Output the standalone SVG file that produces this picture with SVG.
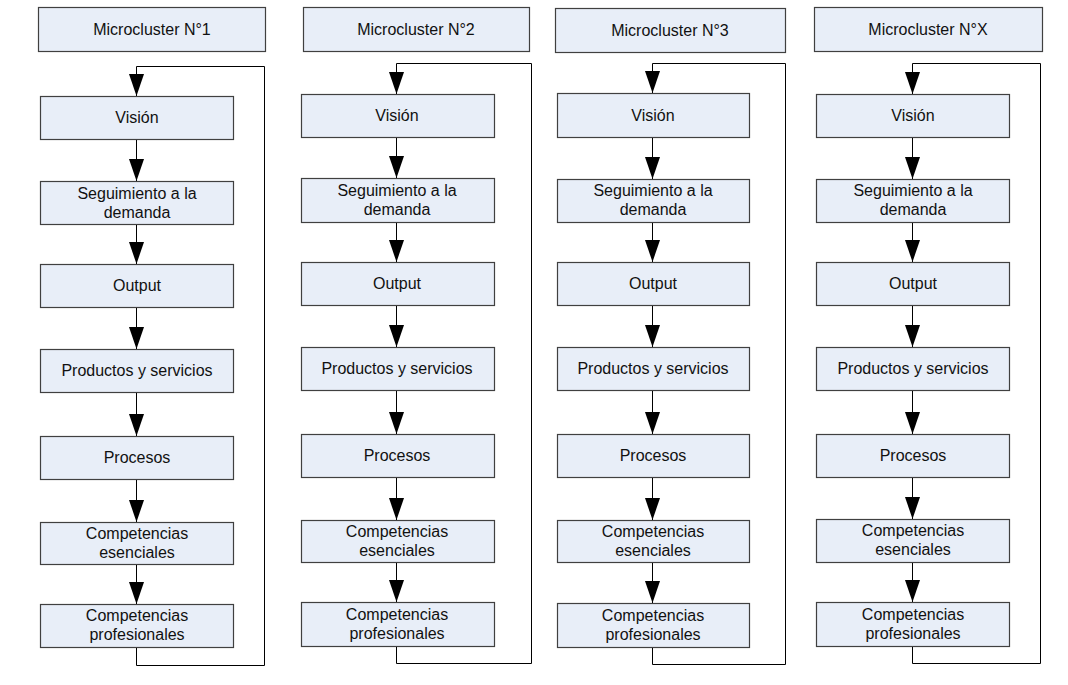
<svg xmlns="http://www.w3.org/2000/svg" width="1068" height="685" viewBox="0 0 1068 685">
<style>
.box{fill:#e8eef8;stroke:#404040;stroke-width:1.2}
.t{font-family:"Liberation Sans",Arial,sans-serif;font-size:16px;fill:#111;text-anchor:middle}
.c{fill:none;stroke:#000;stroke-width:1}
</style>
<defs>
<marker id="ah" viewBox="0 0 22 15" refX="22" refY="7.5" markerWidth="22" markerHeight="15" markerUnits="userSpaceOnUse" orient="auto">
<path d="M0,0 L22,7.5 L0,15 z" fill="#000"/>
</marker>
</defs>
<rect width="1068" height="685" fill="#fff"/>

<!-- Column 1 -->
<g id="h1"><rect class="box" x="38.5" y="7.5" width="227" height="44"/><text class="t" x="152" y="35">Microcluster N°1</text></g>
<g id="c1n1"><rect class="box" x="40.5" y="96.5" width="193" height="43"/><text class="t" x="137" y="123">Visión</text></g>
<g id="c1n2"><rect class="box" x="40.5" y="181.5" width="193" height="43"/><text class="t" x="137" y="199">Seguimiento a la</text><text class="t" x="137" y="218">demanda</text></g>
<g id="c1n3"><rect class="box" x="40.5" y="264.5" width="193" height="43"/><text class="t" x="137" y="291">Output</text></g>
<g id="c1n4"><rect class="box" x="40.5" y="349.5" width="193" height="43"/><text class="t" x="137" y="376">Productos y servicios</text></g>
<g id="c1n5"><rect class="box" x="40.5" y="436.5" width="193" height="43"/><text class="t" x="137" y="463">Procesos</text></g>
<g id="c1n6"><rect class="box" x="40.5" y="522.5" width="193" height="42"/><text class="t" x="137" y="539">Competencias</text><text class="t" x="137" y="558">esenciales</text></g>
<g id="c1n7"><rect class="box" x="40.5" y="604.5" width="193" height="43"/><text class="t" x="137" y="621">Competencias</text><text class="t" x="137" y="640">profesionales</text></g>

<!-- Column 2 -->
<g id="h2"><rect class="box" x="303.5" y="7.5" width="226" height="44"/><text class="t" x="416" y="35">Microcluster N°2</text></g>
<g id="c2n1"><rect class="box" x="301.5" y="94.5" width="193" height="43"/><text class="t" x="397" y="121">Visión</text></g>
<g id="c2n2"><rect class="box" x="301.5" y="178.5" width="193" height="44"/><text class="t" x="397" y="196">Seguimiento a la</text><text class="t" x="397" y="215">demanda</text></g>
<g id="c2n3"><rect class="box" x="301.5" y="262.5" width="193" height="43"/><text class="t" x="397" y="289">Output</text></g>
<g id="c2n4"><rect class="box" x="301.5" y="347.5" width="193" height="43"/><text class="t" x="397" y="374">Productos y servicios</text></g>
<g id="c2n5"><rect class="box" x="301.5" y="434.5" width="193" height="43"/><text class="t" x="397" y="461">Procesos</text></g>
<g id="c2n6"><rect class="box" x="301.5" y="520.5" width="193" height="42"/><text class="t" x="397" y="537">Competencias</text><text class="t" x="397" y="556">esenciales</text></g>
<g id="c2n7"><rect class="box" x="301.5" y="602.5" width="193" height="44"/><text class="t" x="397" y="620">Competencias</text><text class="t" x="397" y="639">profesionales</text></g>

<!-- Column 3 -->
<g id="h3"><rect class="box" x="555.5" y="8.5" width="230" height="44"/><text class="t" x="670" y="36">Microcluster N°3</text></g>
<g id="c3n1"><rect class="box" x="557.5" y="93.5" width="192" height="44"/><text class="t" x="653" y="121">Visión</text></g>
<g id="c3n2"><rect class="box" x="557.5" y="179.5" width="192" height="43"/><text class="t" x="653" y="196">Seguimiento a la</text><text class="t" x="653" y="215">demanda</text></g>
<g id="c3n3"><rect class="box" x="557.5" y="262.5" width="192" height="43"/><text class="t" x="653" y="289">Output</text></g>
<g id="c3n4"><rect class="box" x="557.5" y="347.5" width="192" height="43"/><text class="t" x="653" y="374">Productos y servicios</text></g>
<g id="c3n5"><rect class="box" x="557.5" y="434.5" width="192" height="43"/><text class="t" x="653" y="461">Procesos</text></g>
<g id="c3n6"><rect class="box" x="557.5" y="520.5" width="192" height="42"/><text class="t" x="653" y="537">Competencias</text><text class="t" x="653" y="556">esenciales</text></g>
<g id="c3n7"><rect class="box" x="557.5" y="603.5" width="192" height="44"/><text class="t" x="653" y="621">Competencias</text><text class="t" x="653" y="640">profesionales</text></g>

<!-- Column 4 -->
<g id="h4"><rect class="box" x="814.5" y="7.5" width="228" height="44"/><text class="t" x="928" y="35">Microcluster N°X</text></g>
<g id="c4n1"><rect class="box" x="816.5" y="94.5" width="193" height="43"/><text class="t" x="913" y="121">Visión</text></g>
<g id="c4n2"><rect class="box" x="816.5" y="179.5" width="193" height="43"/><text class="t" x="913" y="196">Seguimiento a la</text><text class="t" x="913" y="215">demanda</text></g>
<g id="c4n3"><rect class="box" x="816.5" y="262.5" width="193" height="43"/><text class="t" x="913" y="289">Output</text></g>
<g id="c4n4"><rect class="box" x="816.5" y="347.5" width="193" height="43"/><text class="t" x="913" y="374">Productos y servicios</text></g>
<g id="c4n5"><rect class="box" x="816.5" y="434.5" width="193" height="43"/><text class="t" x="913" y="461">Procesos</text></g>
<g id="c4n6"><rect class="box" x="816.5" y="519.5" width="193" height="43"/><text class="t" x="913" y="536">Competencias</text><text class="t" x="913" y="555">esenciales</text></g>
<g id="c4n7"><rect class="box" x="816.5" y="602.5" width="193" height="44"/><text class="t" x="913" y="620">Competencias</text><text class="t" x="913" y="639">profesionales</text></g>

<g id="connectors">
<!-- col 1 -->
<path class="c" marker-end="url(#ah)" d="M136.5,140 V181"/>
<path class="c" marker-end="url(#ah)" d="M136.5,225 V264"/>
<path class="c" marker-end="url(#ah)" d="M136.5,308 V349"/>
<path class="c" marker-end="url(#ah)" d="M136.5,393 V436"/>
<path class="c" marker-end="url(#ah)" d="M136.5,480 V522"/>
<path class="c" marker-end="url(#ah)" d="M136.5,565 V604"/>
<path class="c" marker-end="url(#ah)" d="M136.5,648 V665.5 H264.5 V66.5 H136.5 V96"/>
<!-- col 2 -->
<path class="c" marker-end="url(#ah)" d="M396.5,138 V178"/>
<path class="c" marker-end="url(#ah)" d="M396.5,223 V262"/>
<path class="c" marker-end="url(#ah)" d="M396.5,306 V347"/>
<path class="c" marker-end="url(#ah)" d="M396.5,391 V434"/>
<path class="c" marker-end="url(#ah)" d="M396.5,478 V520"/>
<path class="c" marker-end="url(#ah)" d="M396.5,563 V602"/>
<path class="c" marker-end="url(#ah)" d="M396.5,647 V663.5 H531.5 V63.5 H396.5 V94"/>
<!-- col 3 -->
<path class="c" marker-end="url(#ah)" d="M652.5,138 V179"/>
<path class="c" marker-end="url(#ah)" d="M652.5,223 V262"/>
<path class="c" marker-end="url(#ah)" d="M652.5,306 V347"/>
<path class="c" marker-end="url(#ah)" d="M652.5,391 V434"/>
<path class="c" marker-end="url(#ah)" d="M652.5,478 V520"/>
<path class="c" marker-end="url(#ah)" d="M652.5,563 V603"/>
<path class="c" marker-end="url(#ah)" d="M652.5,648 V664.5 H785.5 V63.5 H652.5 V93"/>
<!-- col 4 -->
<path class="c" marker-end="url(#ah)" d="M912.5,138 V179"/>
<path class="c" marker-end="url(#ah)" d="M912.5,223 V262"/>
<path class="c" marker-end="url(#ah)" d="M912.5,306 V347"/>
<path class="c" marker-end="url(#ah)" d="M912.5,391 V434"/>
<path class="c" marker-end="url(#ah)" d="M912.5,478 V519"/>
<path class="c" marker-end="url(#ah)" d="M912.5,563 V602"/>
<path class="c" marker-end="url(#ah)" d="M912.5,647 V663.5 H1040.5 V63.5 H912.5 V94"/>
</g>
</svg>
